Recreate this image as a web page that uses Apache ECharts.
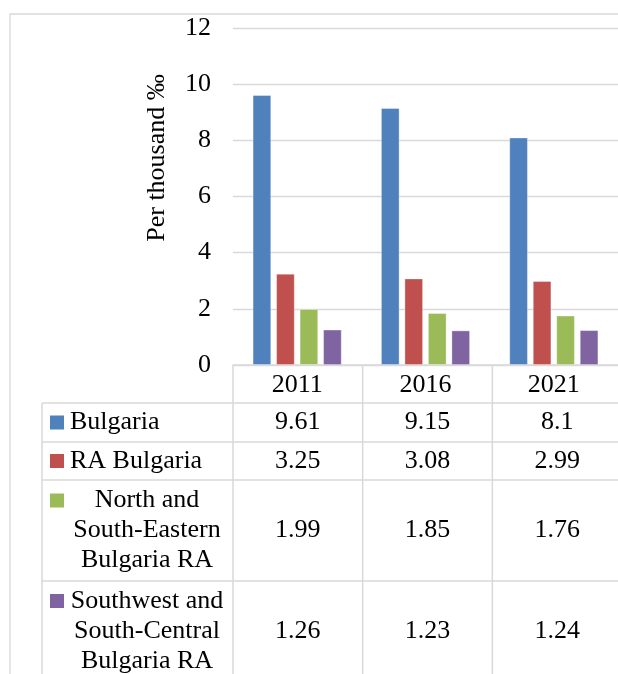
<!DOCTYPE html>
<html>
<head>
<meta charset="utf-8">
<style>
  html, body { margin: 0; padding: 0; background: #ffffff; }
  #chart { width: 618px; height: 674px; }
</style>
<script src="https://cdn.jsdelivr.net/npm/echarts@6/dist/echarts.min.js"></script>
</head>
<body>
<div id="chart"></div>
<script>
// Census years
const years = ['2011', '2016', '2021'];

// Series names and values (per thousand)
const seriesNames = [
  'Bulgaria',
  'RA Bulgaria',
  'North and South-Eastern Bulgaria RA',
  'Southwest and South-Central Bulgaria RA'
];
const bulgaria = [9.61, 9.15, 8.1];
const raBulgaria = [3.25, 3.08, 2.99];
const northSouthEastern = [1.99, 1.85, 1.76];
const southwestSouthCentral = [1.26, 1.23, 1.24];

// Wrapped row labels of the data table
const rowLabelLines = [
  ['Bulgaria'],
  ['RA Bulgaria'],
  ['North and', 'South-Eastern', 'Bulgaria RA'],
  ['Southwest and', 'South-Central', 'Bulgaria RA']
];

const yAxisTitle = 'Per thousand \u2030';
const yTicks = { min: 0, max: 12, interval: 2 };

const colors = ['#4F81BD', '#C0504D', '#9BBB59', '#8064A2'];
const allSeries = [bulgaria, raBulgaria, northSouthEastern, southwestSouthCentral];

const FONT = "'Liberation Serif', 'Times New Roman', serif";
const LINE = '#d9d9d9';

// Plot area
const plotLeft = 233, plotTop = 28, plotWidth = 389, plotHeight = 337;
const plotBottom = plotTop + plotHeight;
const band = plotWidth / years.length;

// Data table geometry
const tableLeft = 42;
const rowEdges = [403, 442, 480, 581, 681];
const canvasRight = 640, canvasBottom = 700;

const chart = echarts.init(document.getElementById('chart'), null, { renderer: 'canvas' });

const graphics = [];

// Outer chart border
graphics.push({
  type: 'rect', silent: true,
  shape: { x: 10, y: 14, width: canvasRight, height: canvasBottom },
  style: { fill: 'none', stroke: LINE, lineWidth: 1.3 }
});

// Table horizontal rules
rowEdges.forEach(y => {
  graphics.push({
    type: 'line', silent: true,
    shape: { x1: tableLeft, y1: y, x2: canvasRight, y2: y },
    style: { stroke: LINE, lineWidth: 1.5 }
  });
});
// Table vertical rules
graphics.push({
  type: 'line', silent: true,
  shape: { x1: tableLeft, y1: rowEdges[0], x2: tableLeft, y2: canvasBottom },
  style: { stroke: LINE, lineWidth: 1.5 }
});
for (let i = 0; i <= years.length; i++) {
  const x = plotLeft + i * band;
  graphics.push({
    type: 'line', silent: true,
    shape: { x1: x, y1: plotBottom, x2: x, y2: canvasBottom },
    style: { stroke: LINE, lineWidth: 1.5 }
  });
}

// Table rows: legend key, label, values
const lineHeight = 30;
allSeries.forEach((vals, r) => {
  const top = rowEdges[r], bottom = rowEdges[r + 1];
  const cy = (top + bottom) / 2;
  const lines = rowLabelLines[r];
  const firstY = cy - (lines.length - 1) * lineHeight / 2;
  graphics.push({
    type: 'rect', silent: true,
    shape: { x: 50, y: firstY - 7, width: 14, height: 14 },
    style: { fill: colors[r] }
  });
  lines.forEach((t, k) => {
    const multi = lines.length > 1;
    graphics.push({
      type: 'text', silent: true,
      style: {
        text: t, x: multi ? 147 : 70, y: firstY + k * lineHeight,
        textAlign: multi ? 'center' : 'left', textVerticalAlign: 'middle',
        font: '26px ' + FONT, fill: '#000'
      }
    });
  });
  vals.forEach((v, c) => {
    graphics.push({
      type: 'text', silent: true,
      style: {
        text: String(v), x: plotLeft + (c + 0.5) * band, y: cy,
        textAlign: 'center', textVerticalAlign: 'middle',
        font: '26px ' + FONT, fill: '#000'
      }
    });
  });
});

// Vertical axis title
graphics.push({
  type: 'text', silent: true,
  x: 157, y: 158, rotation: Math.PI / 2,
  style: {
    text: yAxisTitle, x: 0, y: 0,
    textAlign: 'center', textVerticalAlign: 'middle',
    font: '26px ' + FONT, fill: '#000'
  }
});

const option = {
  animation: false,
  backgroundColor: '#ffffff',
  grid: { left: plotLeft, top: plotTop, width: plotWidth, height: plotHeight, containLabel: false },
  xAxis: {
    type: 'category',
    data: years,
    boundaryGap: true,
    axisLine: { show: true, lineStyle: { color: LINE, width: 1.5 } },
    axisTick: { show: false },
    axisLabel: {
      margin: 20, verticalAlign: 'middle',
      fontFamily: FONT, fontSize: 26, color: '#000'
    },
    splitLine: { show: false }
  },
  yAxis: {
    type: 'value',
    min: yTicks.min, max: yTicks.max, interval: yTicks.interval,
    axisLine: { show: false },
    axisTick: { show: false },
    axisLabel: { margin: 22, fontFamily: FONT, fontSize: 26, color: '#000' },
    splitLine: { show: true, lineStyle: { color: LINE, width: 1.3 } }
  },
  series: allSeries.map((vals, i) => ({
    name: seriesNames[i],
    type: 'bar',
    data: vals,
    barWidth: 18.5,
    barGap: '27%',
    itemStyle: { color: colors[i], borderColor: 'rgba(255,255,255,0.45)', borderWidth: 0.8 }
  })),
  graphic: graphics
};

chart.setOption(option);
</script>
</body>
</html>
